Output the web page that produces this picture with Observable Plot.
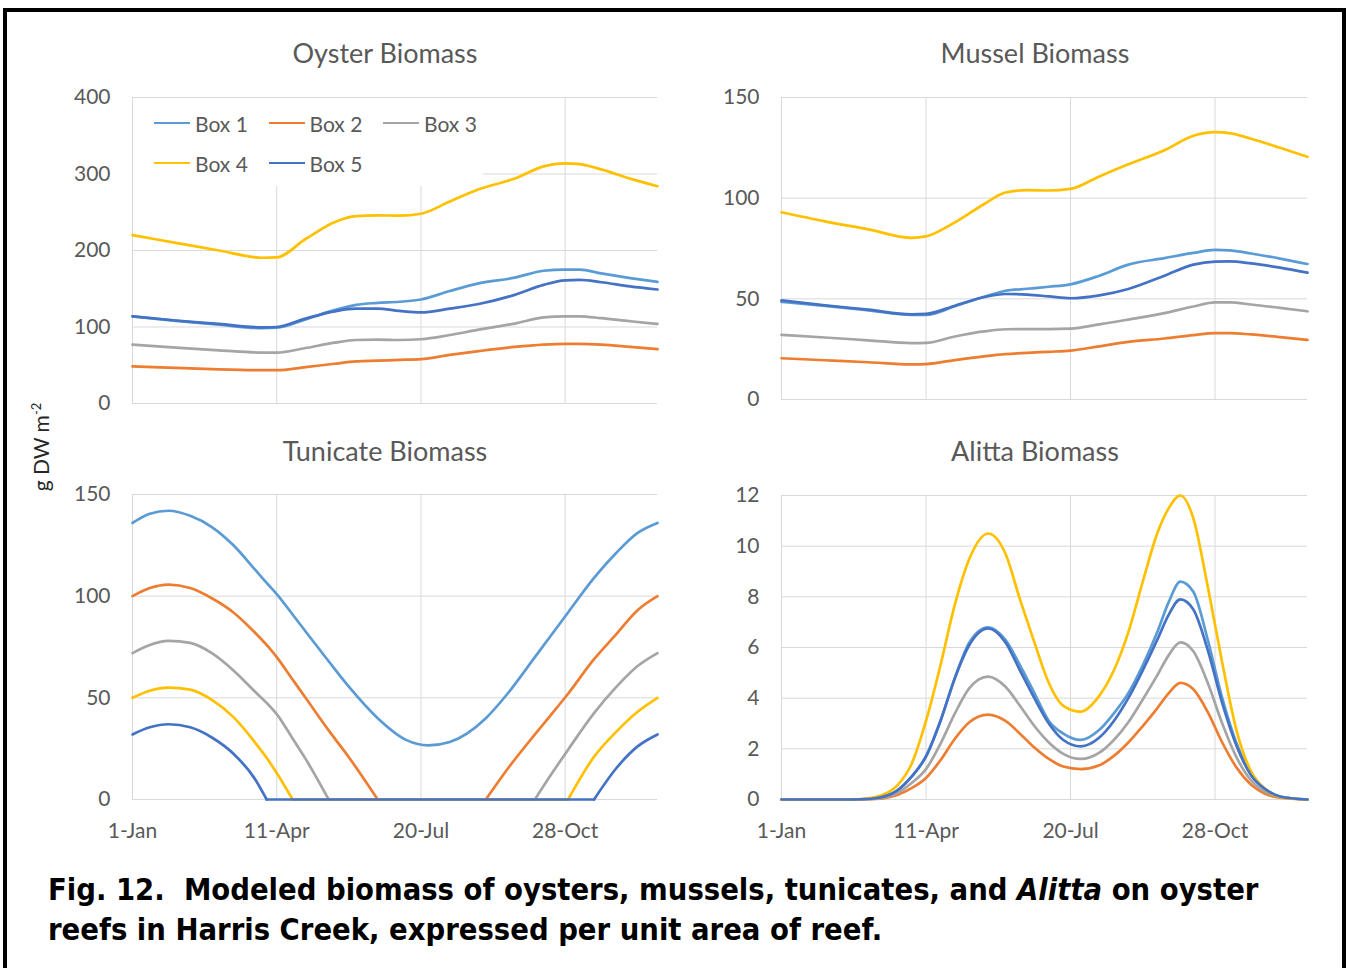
<!DOCTYPE html>
<html>
<head>
<meta charset="utf-8">
<script src="https://cdn.jsdelivr.net/npm/d3@7"></script>
<script src="https://cdn.jsdelivr.net/npm/@observablehq/plot@0.6"></script>
<style>
  html, body { margin: 0; padding: 0; background: #fff; }
  #page { position: relative; width: 1347px; height: 968px; overflow: hidden; background: #fff; font-family: Lato, sans-serif; }
  #frame { position: absolute; left: 3px; top: 8px; width: 1335px; height: 1000px; border: 4px solid #000; border-bottom: none; }
  .panel { position: absolute; }
  .panel svg { overflow: visible; }
  .title { position: absolute; font-family: Lato, sans-serif; font-size: 27px; color: #595959; transform: translate(-50%, -50%); white-space: nowrap; }
  #ylabel { position: absolute; left: 40px; top: 447px; transform: translate(-50%, -50%) rotate(-90deg); font-family: Lato, sans-serif; font-size: 21px; color: #262626; white-space: nowrap; }
  #ylabel sup { font-size: 13px; }
  #legend { position: absolute; left: 133px; top: 98px; width: 350px; height: 88px; background: #fff; display: grid; grid-template-columns: repeat(3, 114.5px); grid-auto-rows: 40px; padding: 5px 0 0 21px; box-sizing: border-box; }
  .li { display: flex; align-items: center; font-family: Lato, sans-serif; font-size: 21px; color: #595959; white-space: nowrap; }
  .sw { display: inline-block; width: 36px; height: 2.5px; margin-right: 5px; }
  #caption { position: absolute; left: 48px; top: 870px; font-family: "DejaVu Sans Condensed", "DejaVu Sans", sans-serif; font-stretch: condensed; font-weight: bold; font-size: 30.6px; line-height: 40px; color: #000; white-space: nowrap; }
</style>
</head>
<body>
<div id="page">
  <div id="frame"></div>
</div>
<script>
// ---------- shared ----------
const seriesNames = ["Box 1", "Box 2", "Box 3", "Box 4", "Box 5"];
const seriesColors = ["#5B9BD5", "#ED7D31", "#A5A5A5", "#FFC000", "#4472C4"];
const xTickDays = [0, 100, 200, 300];
const xTickLabels = ["1-Jan", "11-Apr", "20-Jul", "28-Oct"];

// ---------- Oyster (days since 1 Jan) ----------
const oysterDays = [0, 30, 60, 90, 100, 120, 140, 155, 170, 185, 200, 220, 240, 265, 285, 300, 310, 325, 345, 364];
const oysterBox1 = [114, 108, 103, 98.5, 99, 110, 122, 129, 131.5, 133, 136, 147, 157, 164.5, 173.5, 175, 175, 170, 164, 159];
const oysterBox2 = [48.5, 46.5, 44.5, 43.5, 43.5, 47.5, 52, 55, 56, 57, 58, 63.5, 68.5, 74, 77, 78, 78, 77, 74, 71];
const oysterBox3 = [77, 73, 69.5, 66.5, 66.5, 72.5, 79.5, 83, 83.5, 83, 84, 89.5, 96.5, 104.5, 112.5, 114, 114, 111.5, 107.5, 104];
const oysterBox4 = [220, 210, 200, 190.5, 191, 215, 237, 245, 246, 245.5, 248, 264, 280, 294, 310, 314, 313, 306, 294, 284];
const oysterBox5 = [114, 108.5, 104, 99.5, 100, 111, 120.5, 124, 124, 121, 119, 124, 130, 142, 155, 161, 161.5, 158.5, 153, 149];
const oysterTicks = [0, 100, 200, 300, 400];

// ---------- Mussel ----------
const musselDays = [0, 30, 60, 90, 100, 120, 140, 155, 170, 185, 200, 220, 240, 265, 285, 300, 310, 325, 345, 364];
const musselBox1 = [48.5, 46.5, 44.3, 42, 42, 46.3, 51, 54, 55, 56, 57.2, 61.5, 67, 70.2, 72.8, 74.3, 74.1, 72.5, 70, 67.3];
const musselBox2 = [20.5, 19.5, 18.5, 17.4, 17.6, 19.6, 21.4, 22.5, 23.2, 23.7, 24.3, 26.4, 28.6, 30.3, 32, 33, 33, 32.3, 31, 29.6];
const musselBox3 = [32.1, 30.8, 29.4, 28, 28.1, 31.3, 33.8, 34.9, 35, 35, 35.2, 37.3, 39.7, 42.9, 46.2, 48.2, 48.2, 47.2, 45.5, 43.8];
const musselBox4 = [93, 88.5, 84.5, 80.3, 81, 88, 97, 102.8, 104, 103.8, 104.6, 110.8, 116.8, 123.8, 131, 132.8, 132.3, 129.5, 125, 120.5];
const musselBox5 = [49.2, 46.8, 44.6, 42.3, 42.5, 46.6, 50.8, 52.4, 52.1, 51.2, 50.3, 51.7, 54.9, 61.5, 67, 68.5, 68.6, 67.6, 65.5, 63];
const musselTicks = [0, 50, 100, 150];

// ---------- Tunicate ----------
const tunicateDays = [0, 12, 25, 40, 55, 70, 85, 93, 100, 111, 120, 136, 150, 170, 190, 205, 220, 245, 260, 279, 290, 302, 320, 335, 350, 364];
const tunicateBox1 = [136, 140.5, 142, 139.5, 134, 125, 113, 106.5, 101, 91, 82.6, 68, 55.5, 40, 29.2, 26.6, 28.3, 40, 52, 70, 80.5, 92, 109, 121, 131, 136];
const tunicateBox2 = [100, 104, 105.7, 104, 99, 92, 82, 76, 70, 59, 50, 34, 20.8, 0, 0, 0, 0, 0, 15, 32, 41.5, 52, 69, 81, 93, 100];
const tunicateBox3 = [72, 76, 78, 77, 72, 63.5, 53, 47.5, 42, 30, 20, 0, 0, 0, 0, 0, 0, 0, 0, 0, 12, 24.5, 42.5, 55, 65.5, 72];
const tunicateBox4 = [50, 53.5, 55, 54, 49, 40.5, 28, 20.5, 13, 0, 0, 0, 0, 0, 0, 0, 0, 0, 0, 0, 0, 0, 21, 33, 43, 50];
const tunicateBox5 = [32, 35.5, 37, 35.5, 30.5, 22.5, 10, 0, 0, 0, 0, 0, 0, 0, 0, 0, 0, 0, 0, 0, 0, 0, 0, 15, 26, 32];
const tunicateTicks = [0, 50, 100, 150];

// ---------- Alitta ----------
const alittaDays = [0, 50, 65, 80, 90, 100, 110, 120, 130, 143, 155, 165, 175, 185, 195, 207, 220, 230, 240, 250, 260, 268, 276, 285, 295, 305, 315, 325, 335, 345, 364];
const alittaBox1 = [0, 0, 0.05, 0.35, 0.9, 1.7, 3.1, 4.8, 6.2, 6.8, 6.3, 5.3, 4.2, 3.1, 2.6, 2.35, 2.75, 3.4, 4.2, 5.3, 6.6, 7.8, 8.6, 8.2, 6.3, 4.0, 2.2, 1.0, 0.4, 0.12, 0];
const alittaBox2 = [0, 0, 0.02, 0.18, 0.45, 0.85, 1.55, 2.4, 3.05, 3.35, 3.1, 2.6, 2.05, 1.6, 1.3, 1.2, 1.35, 1.72, 2.25, 2.9, 3.6, 4.2, 4.6, 4.35, 3.45, 2.25, 1.25, 0.58, 0.22, 0.07, 0];
const alittaBox3 = [0, 0, 0.03, 0.25, 0.65, 1.2, 2.2, 3.4, 4.4, 4.85, 4.45, 3.7, 2.9, 2.25, 1.8, 1.6, 1.85, 2.35, 3.05, 3.95, 4.9, 5.7, 6.2, 5.85, 4.6, 3.0, 1.65, 0.75, 0.3, 0.1, 0];
const alittaBox4 = [0, 0, 0.1, 0.55, 1.4, 3.1, 5.3, 7.7, 9.5, 10.5, 9.7, 7.9, 6.2, 4.6, 3.7, 3.47, 4.1, 5.1, 6.6, 8.6, 10.5, 11.5, 12.0, 11.1, 8.4, 5.4, 2.7, 1.1, 0.4, 0.1, 0];
const alittaBox5 = [0, 0, 0.05, 0.35, 0.9, 1.7, 3.1, 4.8, 6.1, 6.75, 6.2, 5.1, 4.0, 3.0, 2.35, 2.1, 2.45, 3.1, 4.0, 5.1, 6.3, 7.3, 7.9, 7.5, 5.9, 3.8, 2.1, 0.95, 0.4, 0.12, 0];
const alittaTicks = [0, 2, 4, 6, 8, 10, 12];

// ---------- helpers ----------
// Long format; each series is split into runs (positive stretches vs. flat zero stretches)
// so the smoothed line keeps a sharp corner where the values hit zero.
function toLong(days, arrays) {
  const rows = [];
  arrays.forEach((arr, si) => {
    const name = seriesNames[si];
    let run = -1, prevType = null;
    for (let i = 0; i < arr.length - 1; i++) {
      const type = (arr[i] > 0 || arr[i + 1] > 0) ? "p" : "z";
      if (type !== prevType) {
        run++;
        rows.push({ day: days[i], value: arr[i], series: name, seg: name + "-" + run });
        prevType = type;
      }
      rows.push({ day: days[i + 1], value: arr[i + 1], series: name, seg: name + "-" + run });
    }
  });
  return rows;
}

function panel({ data, yTicks, showX, left, top, width, height, mt, mb, ml, mr }) {
  const marks = [
    Plot.gridY(yTicks, { stroke: "#d9d9d9", strokeOpacity: 1, strokeWidth: 1 }),
    Plot.gridX(xTickDays, { stroke: "#d9d9d9", strokeOpacity: 1, strokeWidth: 1 }),
    Plot.axisY(yTicks, { tickSize: 0, tickPadding: 22, fontSize: 21, fill: "#595959", label: null }),
    Plot.line(data, { x: "day", y: "value", z: "seg", stroke: "series", curve: "monotone-x", strokeWidth: 2.7 })
  ];
  if (showX) {
    marks.push(Plot.axisX(xTickDays, { tickSize: 0, tickPadding: 24, fontSize: 21, fill: "#595959", label: null, tickFormat: d => xTickLabels[xTickDays.indexOf(d)] }));
  }
  const p = Plot.plot({
    width, height,
    marginTop: mt, marginBottom: mb, marginLeft: ml, marginRight: mr,
    style: { fontFamily: "Lato, sans-serif", color: "#595959", background: "transparent", overflow: "visible" },
    x: { domain: [0, 364], axis: null, label: null },
    y: { domain: [yTicks[0], yTicks[yTicks.length - 1]], axis: null, label: null },
    color: { domain: seriesNames, range: seriesColors },
    marks
  });
  const wrap = document.createElement("div");
  wrap.className = "panel";
  wrap.style.left = left + "px";
  wrap.style.top = top + "px";
  wrap.appendChild(p);
  document.getElementById("page").appendChild(wrap);
}

// ---------- panels ----------
panel({ data: toLong(oysterDays, [oysterBox1, oysterBox2, oysterBox3, oysterBox4, oysterBox5]), yTicks: oysterTicks, showX: false,
        left: 60, top: 85, width: 607, height: 328, mt: 12, mb: 10, ml: 72, mr: 10 });
panel({ data: toLong(musselDays, [musselBox1, musselBox2, musselBox3, musselBox4, musselBox5]), yTicks: musselTicks, showX: false,
        left: 710, top: 85, width: 607, height: 324, mt: 12, mb: 10, ml: 71, mr: 10 });
panel({ data: toLong(tunicateDays, [tunicateBox1, tunicateBox2, tunicateBox3, tunicateBox4, tunicateBox5]), yTicks: tunicateTicks, showX: true,
        left: 60, top: 480, width: 607, height: 369, mt: 14, mb: 50, ml: 72, mr: 10 });
panel({ data: toLong(alittaDays, [alittaBox1, alittaBox2, alittaBox3, alittaBox4, alittaBox5]), yTicks: alittaTicks, showX: true,
        left: 710, top: 480, width: 607, height: 369, mt: 15, mb: 50, ml: 71, mr: 10 });

// ---------- titles / labels / legend / caption ----------
const page = document.getElementById("page");
const titles = [["Oyster Biomass", 385, 52], ["Mussel Biomass", 1035, 52], ["Tunicate Biomass", 385, 450], ["Alitta Biomass", 1035, 450]];
titles.forEach(([t, x, y]) => {
  const d = document.createElement("div");
  d.className = "title";
  d.style.left = x + "px";
  d.style.top = y + "px";
  d.textContent = t;
  page.appendChild(d);
});

const yl = document.createElement("div");
yl.id = "ylabel";
yl.innerHTML = "g DW m<sup>-2</sup>";
page.appendChild(yl);

const lg = document.createElement("div");
lg.id = "legend";
seriesNames.forEach((n, i) => {
  const it = document.createElement("div");
  it.className = "li";
  const sw = document.createElement("span");
  sw.className = "sw";
  sw.style.background = seriesColors[i];
  it.appendChild(sw);
  it.appendChild(document.createTextNode(n));
  lg.appendChild(it);
});
page.appendChild(lg);

const cap = document.createElement("div");
cap.id = "caption";
cap.innerHTML = "Fig. 12.&nbsp; Modeled biomass of oysters, mussels, tunicates, and <i>Alitta</i> on oyster<br>reefs in Harris Creek, expressed per unit area of reef.";
page.appendChild(cap);
</script>
</body>
</html>
